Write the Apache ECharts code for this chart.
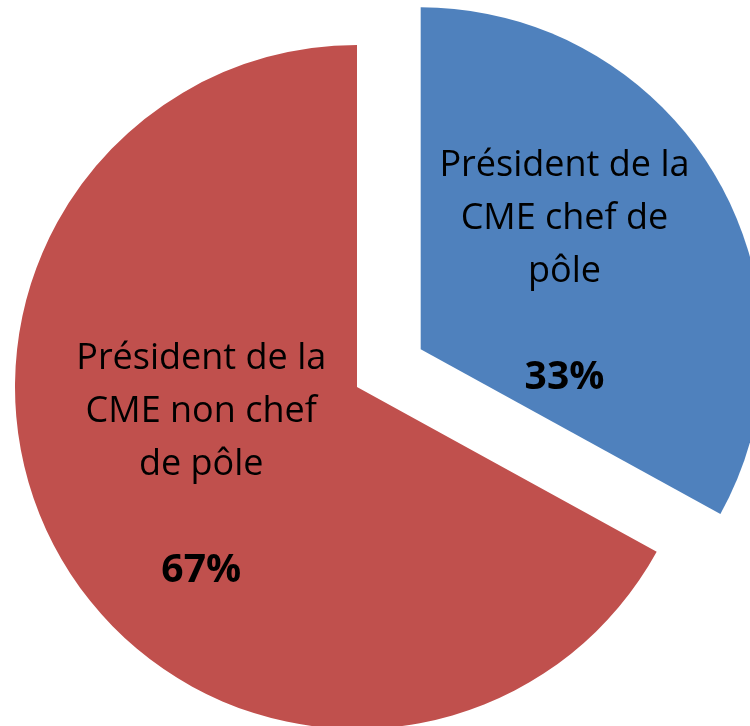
<!DOCTYPE html>
<html lang="fr">
<head>
    <meta charset="UTF-8">
    <title>Camembert</title>
    <style>
        html, body { margin: 0; padding: 0; background: #fff; }
    </style>
</head>
<body>
<div id="main" style="width: 750px;height:726px;"></div>
<script src="https://cdn.jsdelivr.net/npm/echarts@6/dist/echarts.min.js"></script>
<script type="text/javascript">
    // données du graphique
    var categories = ["Président de la\nCME chef de\npôle", "Président de la\nCME non chef\nde pôle"];
    var values = [33, 67];
    var colors = ["#4F81BD", "#C0504D"];
    var labelShift = [[-6, 11], [-6, -11]];

    var myChart = echarts.init(document.getElementById("main"));

    var pieData = [];
    for (var i = 0; i < categories.length; i++) {
        pieData.push({
            name: categories[i],
            value: values[i],
            selected: i === 0,
            itemStyle: { color: colors[i] },
            label: { offset: labelShift[i] },
            select: { label: { offset: labelShift[i] } }
        });
    }

    var option = {
        animation: false,
        series: [{
            type: "pie",
            center: [357, 387],
            radius: 342,
            startAngle: 90,
            clockwise: true,
            selectedMode: "single",
            selectedOffset: 74,
            avoidLabelOverlap: false,
            label: {
                show: true,
                position: "inner",
                color: "#000",
                fontFamily: "Open Sans",
                fontSize: 36,
                lineHeight: 53,
                formatter: function (params) {
                    var lines = params.name.split("\n").map(function (l) {
                        return "{t|" + l + "}";
                    });
                    return lines.join("\n") + "\n\n{p|" + Math.round(params.percent) + "%}";
                },
                rich: {
                    t: { fontFamily: "Open Sans", fontSize: 36, lineHeight: 53, color: "#000" },
                    p: { fontFamily: "Open Sans", fontSize: 39, lineHeight: 53, fontWeight: "bold", color: "#000" }
                }
            },
            labelLine: { show: false },
            emphasis: { disabled: true },
            data: pieData
        }]
    };

    myChart.setOption(option);
</script>
</body>
</html>
